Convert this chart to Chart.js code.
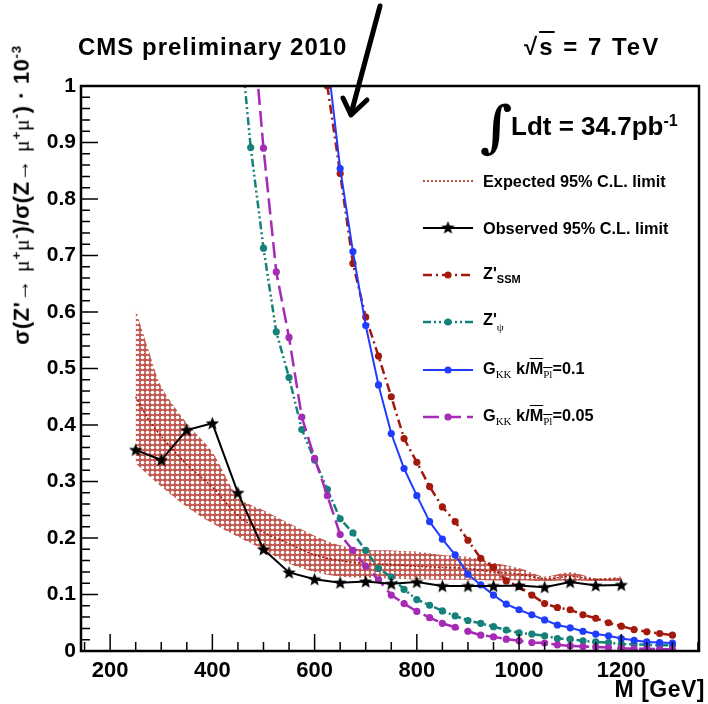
<!DOCTYPE html>
<html>
<head>
<meta charset="utf-8">
<script src="https://cdn.jsdelivr.net/npm/chart.js@4.4.1/dist/chart.umd.min.js"></script>
<style>
  body { margin: 0; background: #fff; }
  #wrap { position: relative; width: 708px; height: 704px; overflow: hidden; font-family: "Liberation Sans", Arial, sans-serif; font-weight: bold; color: #000; }
  #chartPro { position: absolute; left: 0; top: 0; }
  .txt { position: absolute; white-space: nowrap; line-height: 1; }
  .leg { font-size: 16.3px; left: 483px; transform: translateY(-50%); }
  .sub { font-size: 11px; vertical-align: -4px; }
  .serif { font-family: "Liberation Serif", serif; font-weight: normal; }
  .ov { text-decoration: overline; }
  sup { font-size: 0.62em; vertical-align: 0.55em; }
</style>
</head>
<body>
<div id="wrap">
  <canvas id="chartPro" width="708" height="704"></canvas>

  <div class="txt" style="left:78px; top:35px; font-size:24px; letter-spacing:1px;">CMS preliminary 2010</div>
  <div class="txt" style="left:524px; top:35px; font-size:24px; letter-spacing:2px;">√<span style="text-decoration:overline;">s</span> = 7 TeV</div>

  <div class="txt" id="ytitle" style="left:21px; top:195px; font-size:22px; letter-spacing:0.6px; transform: translate(-50%,-50%) rotate(-90deg);">σ(Z'→ <span class="serif">μ</span><sup>+</sup><span class="serif">μ</span><sup>-</sup>)/σ(Z→ <span class="serif">μ</span><sup>+</sup><span class="serif">μ</span><sup>-</sup>) · 10<sup>-3</sup></div>
  <div class="txt" style="right:3px; top:678px; font-size:23px; letter-spacing:0.5px;">M [GeV]</div>

  <div class="txt" style="left:480px; top:98px; font-size:56px; font-family:'DejaVu Serif', serif; font-weight:bold;">∫</div>
  <div class="txt" style="left:511px; top:112px; font-size:26px;">Ldt = 34.7pb<sup>-1</sup></div>

  <div class="txt leg" style="top:181px;">Expected 95% C.L. limit</div>
  <div class="txt leg" style="top:228px;">Observed 95% C.L. limit</div>
  <div class="txt leg" style="top:275px;">Z'<span class="sub">SSM</span></div>
  <div class="txt leg" style="top:322px;">Z'<span class="sub serif" style="vertical-align:-6px;">ψ</span></div>
  <div class="txt leg" style="top:370px;">G<span class="sub serif">KK</span> k/<span class="ov">M<span class="sub serif">Pl</span></span>=0.1</div>
  <div class="txt leg" style="top:417px;">G<span class="sub serif">KK</span> k/<span class="ov">M<span class="sub serif">Pl</span></span>=0.05</div>

  <svg style="position:absolute; left:0; top:0;" width="708" height="704">
    <g stroke="#000" stroke-width="5" fill="none" stroke-linecap="round" stroke-linejoin="round">
      <line x1="380" y1="6" x2="351" y2="114"/>
      <polyline points="343,98 351,115 367,100"/>
    </g>
  </svg>
</div>

<script>
// ===== DATA =====
const xTicks = [200, 400, 600, 800, 1000, 1200];
const yTicks = [0, 0.1, 0.2, 0.3, 0.4, 0.5, 0.6, 0.7, 0.8, 0.9, 1];

// expected limit band (+-1 sigma) and median
const bandMass = [250, 275, 300, 350, 400, 450, 500, 550, 600, 650, 700, 750, 800, 850, 900, 950, 1000, 1050, 1100, 1150, 1200];
const bandUpper = [0.604, 0.533, 0.468, 0.403, 0.352, 0.273, 0.249, 0.226, 0.204, 0.187, 0.179, 0.178, 0.176, 0.170, 0.167, 0.156, 0.147, 0.132, 0.140, 0.129, 0.132];
const bandLower = [0.332, 0.311, 0.291, 0.255, 0.226, 0.202, 0.179, 0.155, 0.140, 0.132, 0.129, 0.128, 0.127, 0.126, 0.126, 0.125, 0.125, 0.124, 0.125, 0.124, 0.124];
const expected = [0.45, 0.41, 0.38, 0.33, 0.29, 0.24, 0.21, 0.19, 0.17, 0.16, 0.155, 0.153, 0.15, 0.148, 0.146, 0.14, 0.136, 0.128, 0.132, 0.127, 0.128];

// observed limit
const obsMass = [250, 300, 350, 400, 450, 500, 550, 600, 650, 700, 750, 800, 850, 900, 950, 1000, 1050, 1100, 1150, 1200];
const observed = [0.356, 0.338, 0.391, 0.403, 0.280, 0.180, 0.139, 0.127, 0.121, 0.123, 0.119, 0.122, 0.115, 0.115, 0.115, 0.116, 0.113, 0.122, 0.116, 0.117];

// theory curves
const psiMass = [450, 475, 500, 525, 550, 575, 600, 625, 650, 675, 700, 725, 750, 775, 800, 825, 850, 875, 900, 925, 950, 975, 1000, 1025, 1050, 1075, 1100, 1125, 1150, 1175, 1200, 1225, 1250, 1275, 1300];
const zPsi = [1.13, 0.891, 0.713, 0.565, 0.484, 0.392, 0.338, 0.286, 0.234, 0.209, 0.178, 0.146, 0.131, 0.109, 0.091, 0.081, 0.071, 0.062, 0.054, 0.049, 0.043, 0.037, 0.032, 0.030, 0.027, 0.022, 0.021, 0.018, 0.016, 0.015, 0.012, 0.012, 0.011, 0.010, 0.010];

const gkk005Mass = [475, 500, 525, 550, 575, 600, 625, 650, 675, 700, 725, 750, 775, 800, 825, 850, 875, 900, 925, 950, 975, 1000, 1025, 1050, 1075, 1100, 1125, 1150, 1175, 1200, 1225, 1250, 1275, 1300];
const gkk005 = [1.15, 0.890, 0.671, 0.555, 0.414, 0.341, 0.275, 0.206, 0.178, 0.150, 0.126, 0.099, 0.084, 0.070, 0.059, 0.049, 0.042, 0.035, 0.028, 0.025, 0.021, 0.018, 0.015, 0.014, 0.011, 0.009, 0.008, 0.007, 0.006, 0.005, 0.004, 0.004, 0.003, 0.003];

const heavyMass = [625, 650, 675, 700, 725, 750, 775, 800, 825, 850, 875, 900, 925, 950, 975, 1000, 1025, 1050, 1075, 1100, 1125, 1150, 1175, 1200, 1225, 1250, 1275, 1300];
const zSSM = [1.0, 0.845, 0.686, 0.591, 0.522, 0.450, 0.376, 0.334, 0.291, 0.255, 0.229, 0.196, 0.164, 0.148, 0.124, 0.114, 0.099, 0.084, 0.077, 0.073, 0.064, 0.058, 0.050, 0.044, 0.038, 0.034, 0.031, 0.028];
const gkk01 = [1.05, 0.854, 0.707, 0.576, 0.471, 0.385, 0.323, 0.275, 0.229, 0.198, 0.170, 0.136, 0.117, 0.099, 0.083, 0.073, 0.064, 0.055, 0.046, 0.041, 0.035, 0.030, 0.027, 0.022, 0.019, 0.016, 0.015, 0.014];

const pts = (xs, ys) => xs.map((x, i) => ({ x: x, y: ys[i] }));

// ===== PATTERN / MARKERS =====
const hc = document.createElement("canvas");
hc.width = 5; hc.height = 5;
const hg = hc.getContext("2d");
hg.fillStyle = "rgba(178,48,38,0.8)";
hg.fillRect(0, 0, 5, 5);
hg.fillStyle = "#fff";
hg.beginPath(); hg.arc(2.5, 2.5, 1.8, 0, Math.PI * 2); hg.fill();
const hatch = hg.createPattern(hc, "repeat");

const star = document.createElement("canvas");
star.width = 15; star.height = 15;
const sg = star.getContext("2d");
sg.fillStyle = "#000";
sg.beginPath();
for (let i = 0; i < 10; i++) {
    const r = i % 2 === 0 ? 7 : 3;
    const a = -Math.PI / 2 + i * Math.PI / 5;
    const px = 7.5 + r * Math.cos(a), py = 8 + r * Math.sin(a);
    if (i === 0) sg.moveTo(px, py); else sg.lineTo(px, py);
}
sg.closePath();
sg.fill();

const RED = "#a3190c", TEAL = "#16807a", BLUE = "#1f3cff", PURPLE = "#a52ab6";

// ===== ROOT-STYLE FRAME, TICKS, LEGEND SAMPLES =====
const rootFrame = {
    id: "rootFrame",
    afterDraw(chart) {
        const { ctx, chartArea: a, scales } = chart;
        ctx.save();
        ctx.strokeStyle = "#000";
        ctx.lineWidth = 1.5;
        ctx.beginPath();
        for (let v = 150; v <= 1350; v += 50) {
            const px = scales.x.getPixelForValue(v);
            const len = v % 200 === 0 ? 17 : 9;
            ctx.moveTo(px, a.bottom); ctx.lineTo(px, a.bottom - len);
        }
        for (let k = 0; k <= 50; k++) {
            const py = scales.y.getPixelForValue(k * 0.02);
            const len = k % 5 === 0 ? 17 : 9;
            ctx.moveTo(a.left, py); ctx.lineTo(a.left + len, py);
        }
        ctx.stroke();
        ctx.lineWidth = 2.5;
        ctx.strokeRect(a.left, a.top, a.right - a.left, a.bottom - a.top);

        // legend samples
        const ds = chart.data.datasets;
        const rows = [[2, 181], [3, 228], [4, 275], [5, 322], [6, 370], [7, 417]];
        rows.forEach(([i, y]) => {
            const d = ds[i];
            ctx.strokeStyle = d.borderColor;
            ctx.lineWidth = d.borderWidth;
            ctx.setLineDash(d.borderDash || []);
            ctx.beginPath(); ctx.moveTo(423, y); ctx.lineTo(473, y); ctx.stroke();
            ctx.setLineDash([]);
            if (i === 3) {
                ctx.drawImage(star, 448 - 7.5, y - 8);
            } else if (i > 3) {
                ctx.fillStyle = d.pointBackgroundColor;
                ctx.beginPath(); ctx.arc(448, y, 3.6, 0, Math.PI * 2); ctx.fill();
            }
        });
        ctx.restore();
    }
};

Chart.defaults.font.family = "'Liberation Sans', Arial, sans-serif";
Chart.defaults.color = "#000";

new Chart(document.getElementById("chartPro"), {
    type: "line",
    data: {
        datasets: [
            { data: pts(bandMass, bandUpper), fill: "+1", backgroundColor: hatch, borderWidth: 0, pointRadius: 0, tension: 0.3, order: 10 },
            { data: pts(bandMass, bandLower), fill: false, borderWidth: 0, pointRadius: 0, tension: 0.3, order: 9 },
            { label: "Expected", data: pts(bandMass, expected), borderColor: RED, borderWidth: 1.5, borderDash: [2, 2], pointRadius: 0, fill: false, tension: 0.3, order: 8 },
            { label: "Observed", data: pts(obsMass, observed), borderColor: "#000", borderWidth: 2, pointStyle: star, pointRadius: 7, fill: false, order: 0 },
            { label: "SSM", data: pts(heavyMass, zSSM), borderColor: RED, borderWidth: 2.5, borderDash: [9, 4, 2, 4], pointRadius: 3.6, pointBackgroundColor: RED, pointBorderWidth: 0, fill: false, order: 4 },
            { label: "Psi", data: pts(psiMass, zPsi), borderColor: TEAL, borderWidth: 2.5, borderDash: [8, 3, 2, 3, 2, 3], pointRadius: 3.6, pointBackgroundColor: TEAL, pointBorderWidth: 0, fill: false, order: 3 },
            { label: "G01", data: pts(heavyMass, gkk01), borderColor: BLUE, borderWidth: 2, pointRadius: 3.6, pointBackgroundColor: BLUE, pointBorderWidth: 0, fill: false, order: 2 },
            { label: "G005", data: pts(gkk005Mass, gkk005), borderColor: PURPLE, borderWidth: 2.5, borderDash: [16, 6], pointRadius: 3.6, pointBackgroundColor: PURPLE, pointBorderWidth: 0, fill: false, order: 1 }
        ]
    },
    options: {
        responsive: false,
        animation: false,
        layout: { padding: { top: 86, right: 3, left: 0, bottom: 0 } },
        plugins: { legend: { display: false }, tooltip: { enabled: false } },
        scales: {
            x: {
                type: "linear",
                min: 143,
                max: 1352,
                grid: { display: false, drawTicks: false },
                border: { display: false },
                afterBuildTicks: s => { s.ticks = xTicks.map(v => ({ value: v })); },
                afterFit: s => { s.height = 53; },
                ticks: { padding: 7, maxRotation: 0, autoSkip: false, font: { size: 22, weight: "bold" }, callback: v => String(v) }
            },
            y: {
                min: 0,
                max: 1,
                grid: { display: false, drawTicks: false },
                border: { display: false },
                afterBuildTicks: s => { s.ticks = yTicks.map(v => ({ value: v })); },
                afterFit: s => { s.width = 81; },
                ticks: { padding: 5, autoSkip: false, font: { size: 21, weight: "bold" }, callback: v => String(Math.round(v * 10) / 10) }
            }
        }
    },
    plugins: [rootFrame]
});
</script>
</body>
</html>
